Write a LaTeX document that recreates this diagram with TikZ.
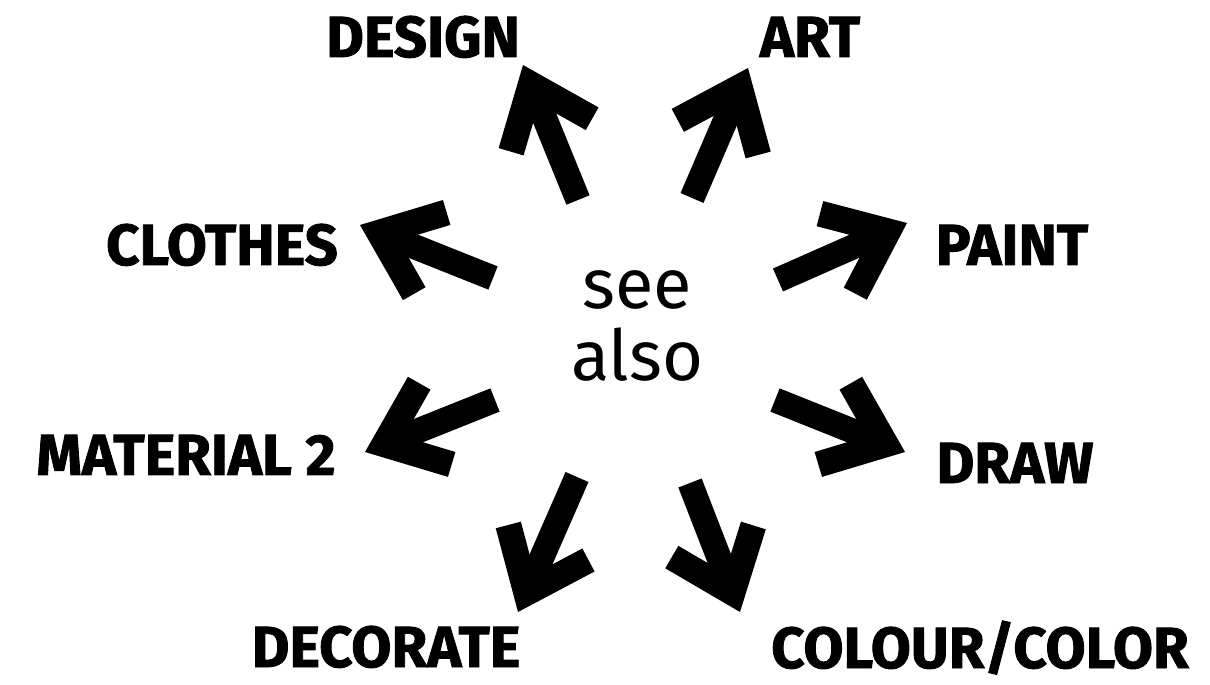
\documentclass[tikz,border=0pt]{standalone}
\usepackage{fontspec}
\newfontfamily\lblfont{Fira Sans}[BoldFeatures={FakeBold=1.5}]
\newfontfamily\seefont{Fira Sans}
\usetikzlibrary{arrows.meta}
\begin{document}
\begin{tikzpicture}[
      x=0.02cm, y=-0.02cm,
      % --- STYLES ---
      word/.style={font=\lblfont\bfseries\fontsize{33}{36}\selectfont, anchor=base, inner sep=0pt},
      hub/.style={font=\seefont\fontsize{40}{41}\selectfont, align=center, inner sep=0pt},
      bigarrow/.style={line width=0.5cm, black,
        -{Straight Barb[length=1.1cm, width=1.75cm, line width=0.52cm]}}
  ]
    %
    % 1. Canvas
    \useasboundingbox (0,0) rectangle (1210,685);
    %
    % 2. Centre
    \node[hub] (hub) at (637,326) {see\\also};
    %
    % 3. Labels
    \node[word] (design) at (423,57) {DESIGN};
    \node[word] (art) at (810,57) {ART};
    \node[word] (clothes) at (222,265) {CLOTHES};
    \node[word] (paint) at (1012,265) {PAINT};
    \node[word] (material) at (186,475) {MATERIAL 2};
    \node[word] (draw) at (1015,483) {DRAW};
    \node[word] (decorate) at (386,667) {DECORATE};
    \node[word] (colour) at (980,668) {COLOUR/COLOR};
    %
    % 4. Arrow ends
    \coordinate (design-tail) at (578,200);
    \coordinate (design-tip) at (523,65);
    \coordinate (art-tail) at (692,198);
    \coordinate (art-tip) at (748,68);
    \coordinate (clothes-tail) at (493,278);
    \coordinate (clothes-tip) at (360,225);
    \coordinate (paint-tail) at (778,280);
    \coordinate (paint-tip) at (907,223);
    \coordinate (material-tail) at (495,400);
    \coordinate (material-tip) at (365,452);
    \coordinate (draw-tail) at (775,400);
    \coordinate (draw-tip) at (905,452);
    \coordinate (decorate-tail) at (577,477);
    \coordinate (decorate-tip) at (518,612);
    \coordinate (colour-tail) at (690,483);
    \coordinate (colour-tip) at (740,612);
    %
    % 5. Arrows
    \foreach \w in {design, art, clothes, paint, material, draw, decorate, colour}
      \draw[bigarrow] (\w-tail) -- (\w-tip);
  \end{tikzpicture}
\end{document}
